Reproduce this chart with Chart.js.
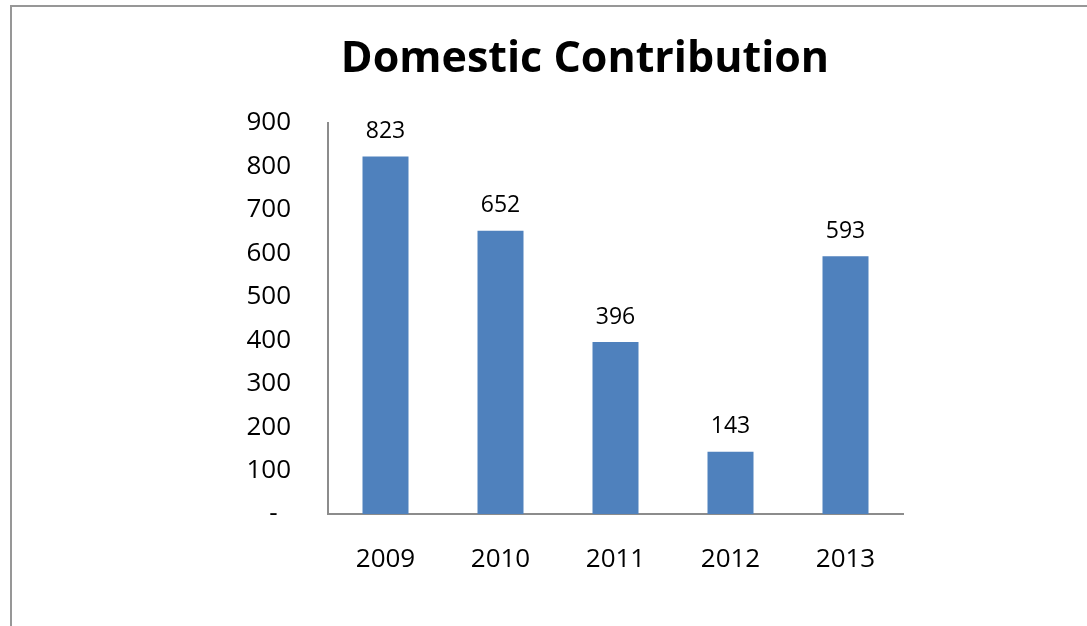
<!DOCTYPE html>
<html>
<head>
<meta charset="utf-8">
<script src="https://cdn.jsdelivr.net/npm/chart.js@4/dist/chart.umd.min.js"></script>
<style>
html,body{margin:0;padding:0;background:#fff;}
#wrap{position:relative;width:1087px;height:626px;}
canvas{display:block;}
</style>
</head>
<body>
<div id="wrap"><canvas id="c" width="1087" height="626"></canvas></div>
<script>
const categories = ['2009', '2010', '2011', '2012', '2013'];
const values = [823, 652, 396, 143, 593];
const yTicks = [0, 100, 200, 300, 400, 500, 600, 700, 800, 900];
const titleText = 'Domestic Contribution';

const frame = {
  id: 'frame',
  beforeDraw(chart) {
    const ctx = chart.ctx;
    ctx.save();
    ctx.fillStyle = '#ffffff';
    ctx.fillRect(0, 0, chart.width, chart.height);
    ctx.strokeStyle = '#979797';
    ctx.lineWidth = 2;
    ctx.beginPath();
    ctx.moveTo(11, chart.height);
    ctx.lineTo(11, 6);
    ctx.lineTo(chart.width, 6);
    ctx.stroke();
    ctx.restore();
  }
};

const dataLabels = {
  id: 'dataLabels',
  afterDatasetsDraw(chart) {
    const ctx = chart.ctx;
    const meta = chart.getDatasetMeta(0);
    ctx.save();
    ctx.font = '23px "Open Sans"';
    ctx.fillStyle = '#000';
    ctx.textAlign = 'center';
    ctx.textBaseline = 'middle';
    meta.data.forEach((bar, i) => {
      ctx.fillText(String(values[i]), bar.x, bar.y - 25);
    });
    ctx.restore();
  }
};

new Chart(document.getElementById('c'), {
  type: 'bar',
  data: {
    labels: categories,
    datasets: [{
      data: values,
      backgroundColor: '#4F81BD',
      borderWidth: 0,
      barPercentage: 1,
      categoryPercentage: 0.4
    }]
  },
  options: {
    responsive: false,
    animation: false,
    devicePixelRatio: 1,
    layout: { padding: { left: 83, right: 0, top: 0, bottom: 0 } },
    plugins: {
      legend: { display: false },
      tooltip: { enabled: false },
      title: {
        display: true,
        text: titleText,
        color: '#000',
        font: { family: 'Open Sans', size: 43, weight: 'bold', lineHeight: 1.2 },
        padding: { top: 34.2, bottom: 37.2 }
      }
    },
    scales: {
      x: {
        grid: { display: false, drawTicks: false },
        border: { display: true, color: '#8c8c8c', width: 2 },
        ticks: { color: '#000', font: { family: 'Open Sans', size: 26 }, padding: 30 },
        afterFit(s) { s.height = 112; }
      },
      y: {
        min: 0, max: 900,
        afterBuildTicks(s) { s.ticks = yTicks.map(v => ({ value: v })); },
        grid: { display: false, drawTicks: false },
        border: { display: true, color: '#8c8c8c', width: 2 },
        ticks: {
          color: '#000',
          font: { family: 'Open Sans', size: 26 },
          padding: 37,
          callback: v => v === 0 ? '-  ' : String(v)
        },
        afterFit(s) { s.width = 245; }
      },
      yRight: {
        position: 'right',
        display: true,
        min: 0, max: 900,
        grid: { display: false, drawTicks: false },
        border: { display: false },
        ticks: { display: false },
        afterFit(s) { s.width = 184; }
      }
    }
  },
  plugins: [frame, dataLabels]
});
</script>
</body>
</html>
